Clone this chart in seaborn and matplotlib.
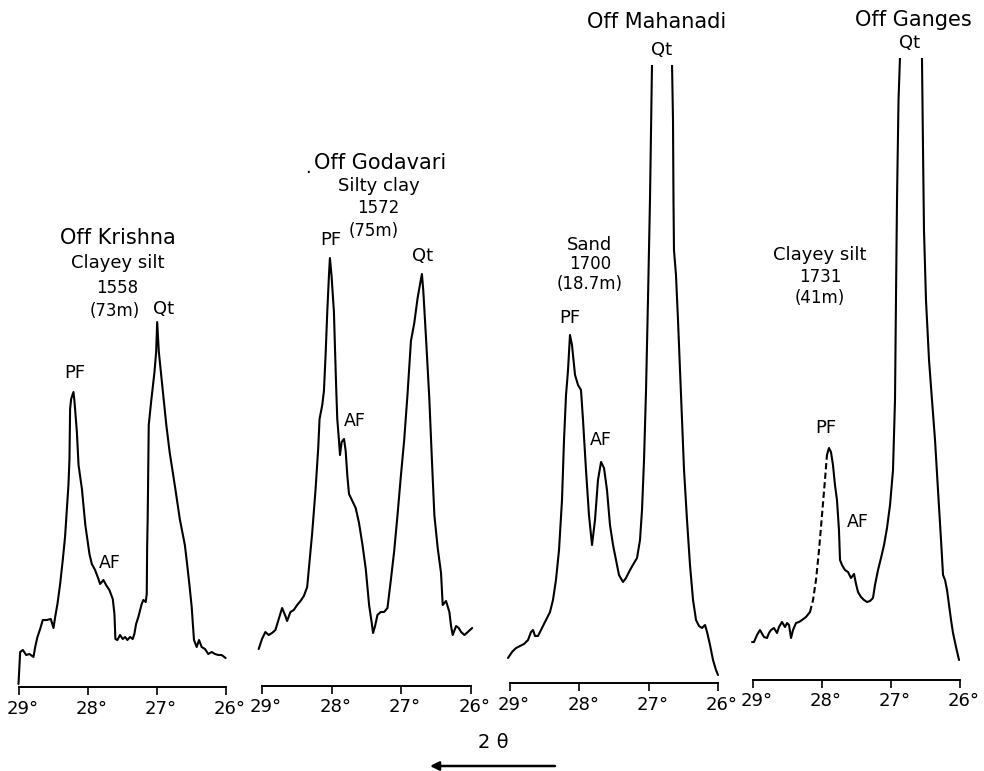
import numpy as np
import pandas as pd
import matplotlib
matplotlib.use("Agg")
import matplotlib.pyplot as plt
import seaborn as sns
from matplotlib.transforms import ScaledTranslation

# ---------------- data: (2-theta in degrees, intensity in arbitrary units) ----------------
KRISHNA = [
    (29.0, 3), (28.976, 35), (28.937, 37), (28.889, 32), (28.841, 33), (28.783, 30),
    (28.759, 40), (28.726, 50), (28.687, 58), (28.649, 67), (28.591, 67), (28.533, 68),
    (28.494, 59), (28.47, 70), (28.437, 83), (28.398, 103), (28.36, 127), (28.327, 150),
    (28.278, 202), (28.263, 228), (28.254, 278), (28.239, 288), (28.205, 295), (28.19, 285),
    (28.156, 255), (28.132, 222), (28.083, 198), (28.034, 162), (28.003, 147), (27.974, 133),
    (27.94, 123), (27.893, 117), (27.844, 108), (27.82, 103), (27.772, 107), (27.734, 102),
    (27.686, 97), (27.637, 88), (27.613, 73), (27.599, 48), (27.57, 47), (27.532, 52),
    (27.493, 48), (27.459, 50), (27.426, 47), (27.387, 50), (27.349, 48), (27.325, 53),
    (27.3, 63), (27.267, 70), (27.219, 83), (27.195, 87), (27.161, 85), (27.146, 93),
    (27.14, 140), (27.132, 170), (27.117, 262), (27.083, 285), (27.034, 315), (27.01, 335),
    (26.995, 365), (26.971, 335), (26.912, 295), (26.863, 262), (26.815, 235), (26.741, 202),
    (26.668, 168), (26.595, 142), (26.569, 127), (26.53, 103), (26.496, 80), (26.463, 47),
    (26.424, 40), (26.39, 47), (26.352, 40), (26.304, 38), (26.256, 33), (26.207, 35),
    (26.159, 33), (26.111, 32), (26.063, 32), (26.005, 29),
]

GODAVARI = [
    (29.048, 37), (29.0, 47), (28.952, 54), (28.904, 51), (28.856, 53), (28.807, 56),
    (28.759, 67), (28.711, 78), (28.663, 70), (28.639, 65), (28.591, 74), (28.543, 76),
    (28.494, 81), (28.446, 85), (28.398, 90), (28.35, 99), (28.326, 117), (28.278, 153),
    (28.23, 196), (28.191, 238), (28.172, 267), (28.133, 281), (28.109, 295), (28.085, 331),
    (28.061, 374), (28.037, 410), (28.023, 428), (27.999, 410), (27.965, 374), (27.95, 338),
    (27.931, 295), (27.917, 267), (27.893, 246), (27.878, 231), (27.854, 244), (27.82, 247),
    (27.796, 235), (27.772, 210), (27.748, 192), (27.7, 185), (27.652, 178), (27.604, 163),
    (27.556, 142), (27.507, 117), (27.459, 81), (27.421, 63), (27.402, 53), (27.373, 60),
    (27.339, 71), (27.291, 74), (27.243, 74), (27.195, 78), (27.146, 106), (27.098, 135),
    (27.05, 171), (27.002, 210), (26.954, 246), (26.906, 292), (26.857, 345), (26.809, 363),
    (26.761, 388), (26.723, 403), (26.699, 412), (26.679, 395), (26.641, 349), (26.593, 288),
    (26.554, 224), (26.52, 171), (26.472, 138), (26.424, 113), (26.4, 81), (26.352, 85),
    (26.304, 74), (26.28, 60), (26.256, 51), (26.207, 60), (26.169, 58), (26.135, 54),
    (26.087, 51), (26.039, 54), (25.976, 58),
]

MAHANADI = [
    (29.029, 25), (28.971, 31), (28.913, 35), (28.856, 37), (28.798, 39), (28.74, 43),
    (28.697, 51), (28.668, 53), (28.639, 47), (28.596, 47), (28.553, 53), (28.51, 59),
    (28.466, 65), (28.423, 71), (28.38, 83), (28.337, 103), (28.293, 133), (28.25, 183),
    (28.221, 243), (28.192, 288), (28.163, 313), (28.135, 348), (28.106, 338), (28.062, 308),
    (28.019, 298), (27.976, 293), (27.947, 263), (27.904, 213), (27.861, 168), (27.817, 138),
    (27.774, 163), (27.731, 203), (27.687, 221), (27.644, 215), (27.601, 193), (27.558, 158),
    (27.514, 138), (27.471, 123), (27.428, 108), (27.37, 101), (27.327, 105), (27.269, 113),
    (27.211, 120), (27.168, 125), (27.125, 143), (27.096, 173), (27.067, 223), (27.038, 293),
    (27.01, 383), (26.981, 483), (26.966, 553), (26.952, 618), (26.808, 1000),
    (26.663, 618), (26.649, 563), (26.642, 483), (26.635, 433), (26.606, 408), (26.577, 363),
    (26.548, 313), (26.519, 263), (26.49, 213), (26.447, 163), (26.404, 118), (26.36, 83),
    (26.317, 63), (26.274, 57), (26.231, 55), (26.187, 58), (26.158, 51), (26.115, 38),
    (26.072, 23), (26.029, 13), (26.0, 8),
]

GANGES = [
    (29.014, 38), (28.986, 38), (28.942, 45), (28.899, 50), (28.841, 43), (28.797, 42),
    (28.768, 47), (28.739, 50), (28.696, 52), (28.652, 47), (28.623, 53), (28.58, 58),
    (28.536, 53), (28.507, 57), (28.478, 55), (28.449, 42), (28.42, 50), (28.377, 57),
    (28.333, 58), (28.29, 60), (28.232, 63), (28.174, 68), (28.13, 80), (28.087, 100),
    (28.043, 130), (28.0, 165), (27.957, 200), (27.928, 225), (27.899, 232), (27.87, 228),
    (27.841, 215), (27.812, 195), (27.783, 180), (27.754, 150), (27.739, 120), (27.71, 115),
    (27.667, 110), (27.623, 108), (27.58, 102), (27.536, 106), (27.507, 96), (27.478, 88),
    (27.435, 83), (27.391, 80), (27.348, 78), (27.304, 79), (27.261, 82), (27.232, 95),
    (27.188, 110), (27.145, 122), (27.101, 135), (27.058, 152), (27.014, 175), (26.971, 210),
    (26.942, 280), (26.928, 380), (26.913, 480), (26.891, 580), (26.87, 622), (26.71, 1000),
    (26.551, 622), (26.536, 530), (26.522, 450), (26.493, 380), (26.449, 320), (26.406, 280),
    (26.362, 240), (26.319, 190), (26.275, 140), (26.246, 105), (26.217, 100), (26.188, 90),
    (26.159, 75), (26.13, 60), (26.101, 47), (26.058, 33), (26.014, 20),
]
# stretch of the Ganges trace that is printed broken (dashed) in the original
GANGES_DASHED_RANGE = (27.928, 28.174)

TICK_VALUES = [29, 28, 27, 26]
TICK_LABELS = ["29°", "28°", "27°", "26°"]

# ---------------- layout (figure pixels) ----------------
W, H = 984, 771
PANELS = [
    # data, x of 29°, x of 26°, y of axis line, y of clipping top
    dict(data=KRISHNA, x29=18.5, x26=226.0, axis_y=687, top_y=0),
    dict(data=GODAVARI, x29=262.0, x26=470.5, axis_y=686, top_y=0),
    dict(data=MAHANADI, x29=510.0, x26=718.0, axis_y=683, top_y=65),
    dict(data=GANGES, x29=753.0, x26=960.0, axis_y=680, top_y=58),
]

TEXTS = [
    # (x, y, text, fontsize)
    (118, 238, "Off Krishna", 15), (118, 263, "Clayey silt", 13), (117, 288, "1558", 12),
    (115, 311, "(73m)", 12), (164, 309, "Qt", 13), (75, 373, "PF", 13), (110, 563, "AF", 12.5),
    (380, 163, "Off Godavari", 15), (379, 186, "Silty clay", 13), (378, 208, "1572", 12),
    (374, 231, "(75m)", 12), (331, 240, "PF", 13), (423, 256, "Qt", 13), (355, 421, "AF", 12.5),
    (308, 168, ".", 13),
    (657, 22, "Off Mahanadi", 15), (662, 50, "Qt", 13), (590, 245, "Sand", 13),
    (590, 264, "1700", 12), (590, 284, "(18.7m)", 12), (570, 318, "PF", 13), (601, 440, "AF", 12.5),
    (913, 20, "Off Ganges", 15), (910, 43, "Qt", 13), (820, 255, "Clayey silt", 13),
    (820, 277, "1731", 12), (820, 298, "(41m)", 12), (826, 428, "PF", 13), (858, 522, "AF", 12.5),
]

sns.set_theme(style="white")
plt.rcParams["font.family"] = ["DejaVu Sans"]

fig = plt.figure(figsize=(W / 100, H / 100), dpi=100)
fig.patch.set_facecolor("white")

LW = 1.5
XL, XR = 29.15, 25.85

for p in PANELS:
    s = (p["x26"] - p["x29"]) / 3.0
    left = p["x29"] - (XL - 29) * s
    right = p["x26"] + (26 - XR) * s
    ax = fig.add_axes([left / W, 1 - p["axis_y"] / H, (right - left) / W,
                       (p["axis_y"] - p["top_y"]) / H])
    ax.set_facecolor("none")
    df = pd.DataFrame(p["data"], columns=["two_theta", "intensity"])
    if p["data"] is GANGES:
        lo, hi = GANGES_DASHED_RANGE
        parts = [(df[df.two_theta >= hi], "-"),
                 (df[(df.two_theta <= hi) & (df.two_theta >= lo)], (0, (3, 1.6))),
                 (df[df.two_theta <= lo], "-")]
    else:
        parts = [(df, "-")]
    for part, ls in parts:
        sns.lineplot(data=part, x="two_theta", y="intensity", sort=False, estimator=None,
                     color="black", linewidth=LW, linestyle=ls, ax=ax)
    ax.set_xlim(XL, XR)
    ax.set_ylim(0, p["axis_y"] - p["top_y"])
    for side in ("top", "right", "left"):
        ax.spines[side].set_visible(False)
    ax.spines["bottom"].set_bounds(26, 29)
    ax.spines["bottom"].set_linewidth(1.4)
    ax.spines["bottom"].set_color("black")
    ax.set_yticks([])
    ax.set_xticks(TICK_VALUES)
    ax.set_xticklabels(TICK_LABELS, fontsize=13)
    ax.tick_params(axis="x", bottom=True, direction="out", length=6, width=1.2,
                   pad=3, color="black", labelcolor="black")
    ax.set_xlabel("")
    ax.set_ylabel("")
    off = ScaledTranslation(4 / 100, 0, fig.dpi_scale_trans)
    for lab in ax.get_xticklabels():
        lab.set_transform(lab.get_transform() + off)

# overlay in pixel coordinates for the annotations
ov = fig.add_axes([0, 0, 1, 1])
ov.set_xlim(0, W)
ov.set_ylim(H, 0)
ov.axis("off")
ov.set_facecolor("none")
for x, y, t, fs in TEXTS:
    ov.text(x, y, t, ha="center", va="center", fontsize=fs, color="black")
ov.text(493, 743, "2 θ", ha="center", va="center", fontsize=14, color="black")
ov.annotate("", xy=(430, 766), xytext=(555, 766),
            arrowprops=dict(arrowstyle="-|>", lw=1.8, color="black", mutation_scale=13,
                            shrinkA=0, shrinkB=0))

fig.savefig("out.png", dpi=100, facecolor="white")
